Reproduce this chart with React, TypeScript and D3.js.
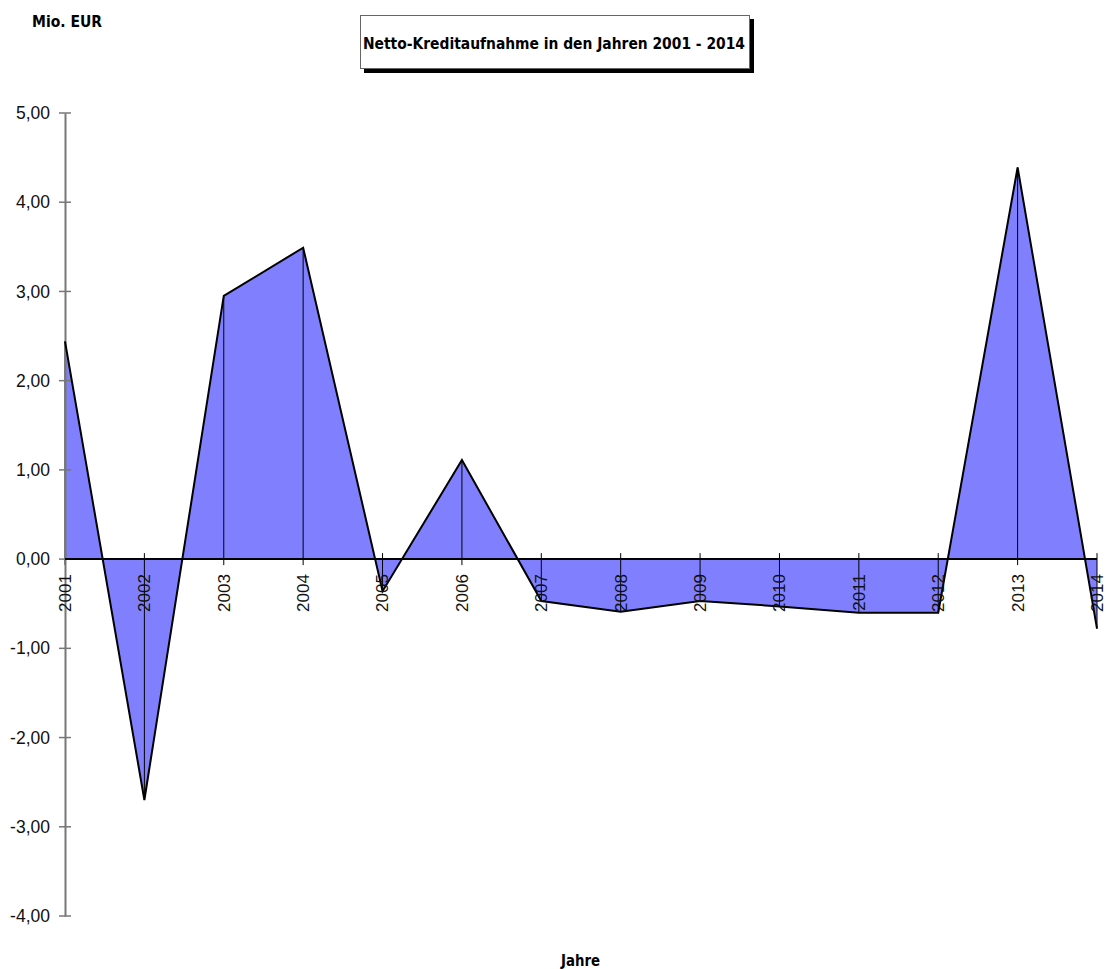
import * as d3 from 'd3';
import { useEffect, useRef } from 'react';

const years = [2001, 2002, 2003, 2004, 2005, 2006, 2007, 2008, 2009, 2010, 2011, 2012, 2013, 2014];
const values = [2.44, -2.7, 2.95, 3.49, -0.36, 1.11, -0.47, -0.59, -0.47, -0.53, -0.6, -0.6, 4.39, -0.78];
const yTicks = [5, 4, 3, 2, 1, 0, -1, -2, -3, -4];
const title = 'Netto-Kreditaufnahme in den Jahren 2001 - 2014';
const yTitle = 'Mio. EUR';
const xTitle = 'Jahre';

const narrow = '"Liberation Sans Narrow", "DejaVu Sans Condensed", Arial, sans-serif';
const sans = '"Liberation Sans", Arial, sans-serif';

export default function App() {
    const svgRef = useRef<SVGSVGElement>(null);

    useEffect(() => {
        if (!svgRef.current) return;
        const svg = d3.select(svgRef.current);
        svg.selectAll('*').remove();

        const data = years.map((year, i) => ({ year, value: values[i] }));

        const x = d3.scaleLinear().domain([2001, 2014]).range([65, 1097]);
        const y = d3.scaleLinear().domain([-4, 5]).range([916, 113]);

        // area
        const area = d3.area<{ year: number; value: number }>()
            .x(d => x(d.year))
            .y0(y(0))
            .y1(d => y(d.value));

        svg.append('path')
            .datum(data)
            .attr('d', area)
            .attr('fill', '#8080ff');

        // drop lines and x ticks
        svg.append('g')
            .selectAll('line')
            .data(data)
            .enter().append('line')
            .attr('x1', d => x(d.year))
            .attr('x2', d => x(d.year))
            .attr('y1', d => Math.min(y(d.value), y(0) - 6))
            .attr('y2', d => Math.max(y(d.value), y(0) + 6))
            .attr('stroke', '#000')
            .attr('stroke-width', 1);

        // y axis
        const yAxis = svg.append('g')
            .attr('transform', `translate(${x(2001)},0)`)
            .call(d3.axisLeft(y).tickValues(yTicks).tickSize(0)
                .tickFormat(d => (d as number).toFixed(2).replace('.', ',')));
        yAxis.select('.domain').attr('stroke', '#777').attr('stroke-width', 2);
        yAxis.selectAll('.tick line').remove();
        yAxis.selectAll('.tick text')
            .attr('x', -15)
            .attr('fill', '#111')
            .attr('font-size', '17.5px')
            .attr('font-family', sans);
        svg.append('g')
            .selectAll('line')
            .data(yTicks)
            .enter().append('line')
            .attr('x1', x(2001) - 6)
            .attr('x2', x(2001) + 6)
            .attr('y1', d => y(d))
            .attr('y2', d => y(d))
            .attr('stroke', '#777')
            .attr('stroke-width', 1.5);

        // zero line
        svg.append('line')
            .attr('x1', x(2001))
            .attr('x2', x(2014))
            .attr('y1', y(0))
            .attr('y2', y(0))
            .attr('stroke', '#000')
            .attr('stroke-width', 2);

        // outline
        const line = d3.line<{ year: number; value: number }>()
            .x(d => x(d.year))
            .y(d => y(d.value));
        svg.append('path')
            .datum(data)
            .attr('d', line)
            .attr('fill', 'none')
            .attr('stroke', '#000')
            .attr('stroke-width', 2);

        // year labels
        svg.append('g')
            .selectAll('text')
            .data(years)
            .enter().append('text')
            .attr('transform', d => `translate(${x(d)},${y(0) + 15}) rotate(-90)`)
            .attr('text-anchor', 'end')
            .attr('dy', '0.35em')
            .attr('font-size', '17px')
            .attr('font-family', sans)
            .attr('fill', '#111')
            .text(d => d);

        // title box
        svg.append('rect')
            .attr('x', 364).attr('y', 19)
            .attr('width', 390).attr('height', 54)
            .attr('fill', '#000');
        svg.append('rect')
            .attr('x', 360.5).attr('y', 15.5)
            .attr('width', 389).attr('height', 53)
            .attr('fill', '#fff')
            .attr('stroke', '#666')
            .attr('stroke-width', 1);
        svg.append('text')
            .attr('x', 363).attr('y', 49)
            .attr('font-family', narrow)
            .attr('font-weight', 'bold')
            .attr('font-size', '16px')
            .attr('textLength', 382)
            .attr('lengthAdjust', 'spacingAndGlyphs')
            .text(title);

        svg.append('text')
            .attr('x', 32).attr('y', 27)
            .attr('font-family', narrow)
            .attr('font-weight', 'bold')
            .attr('font-size', '16px')
            .attr('textLength', 70)
            .attr('lengthAdjust', 'spacingAndGlyphs')
            .text(yTitle);

        svg.append('text')
            .attr('x', 561).attr('y', 966)
            .attr('font-family', narrow)
            .attr('font-weight', 'bold')
            .attr('font-size', '16px')
            .attr('textLength', 39)
            .attr('lengthAdjust', 'spacingAndGlyphs')
            .text(xTitle);
    }, []);

    return (
        <svg ref={svgRef} width={1106} height={969}
            style={{ position: 'absolute', left: 0, top: 0, display: 'block' }} />
    );
}
